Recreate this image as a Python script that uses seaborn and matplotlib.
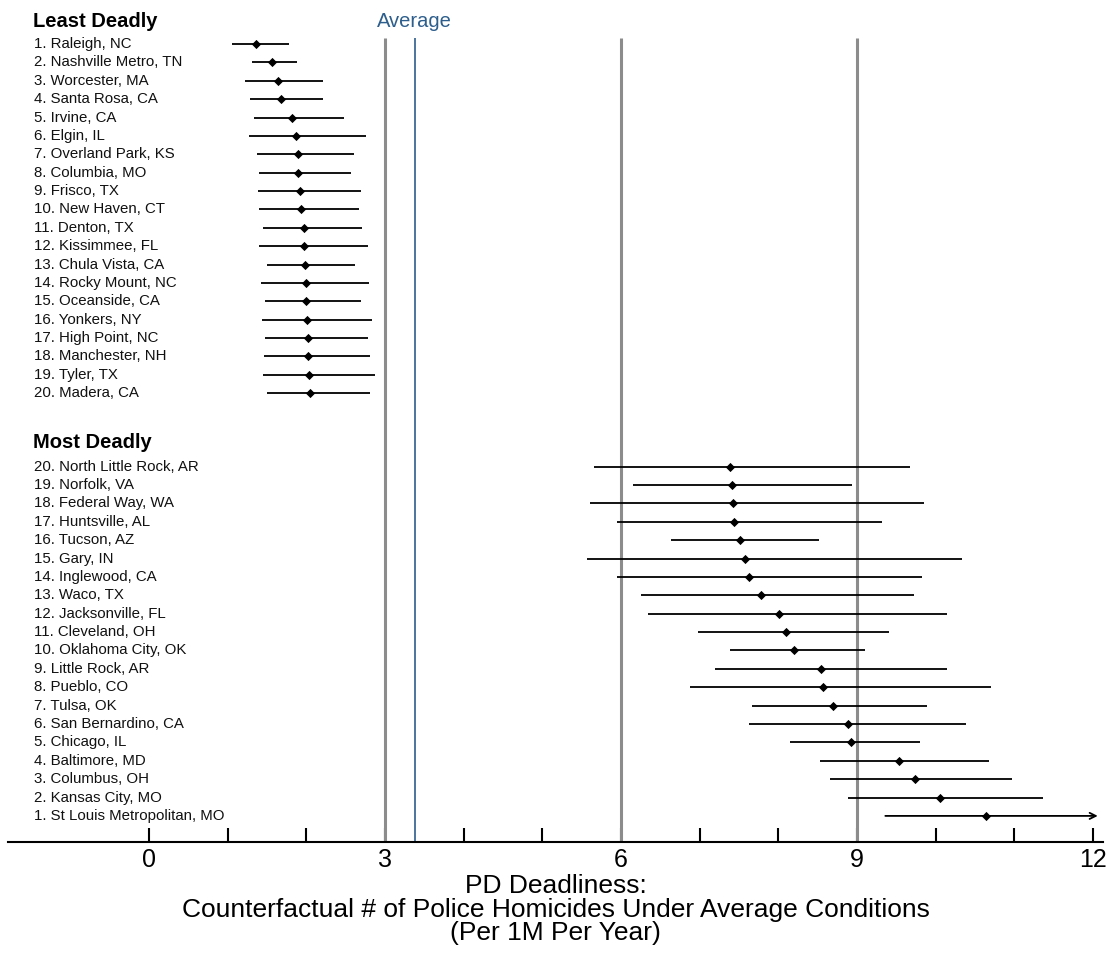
import pandas as pd
import matplotlib
matplotlib.use("Agg")
import matplotlib.pyplot as plt
import seaborn as sns
from matplotlib.transforms import blended_transform_factory

# least deadly, rank 1 -> 20
least_cities = ["Raleigh, NC", "Nashville Metro, TN", "Worcester, MA", "Santa Rosa, CA",
                "Irvine, CA", "Elgin, IL", "Overland Park, KS", "Columbia, MO", "Frisco, TX",
                "New Haven, CT", "Denton, TX", "Kissimmee, FL", "Chula Vista, CA",
                "Rocky Mount, NC", "Oceanside, CA", "Yonkers, NY", "High Point, NC",
                "Manchester, NH", "Tyler, TX", "Madera, CA"]
least_est = [1.36, 1.56, 1.64, 1.68, 1.82, 1.87, 1.89, 1.89, 1.92, 1.93,
             1.97, 1.97, 1.98, 1.99, 1.99, 2.01, 2.02, 2.02, 2.03, 2.05]
least_lo = [1.06, 1.31, 1.22, 1.28, 1.34, 1.27, 1.37, 1.40, 1.38, 1.40,
            1.45, 1.40, 1.50, 1.42, 1.48, 1.44, 1.48, 1.46, 1.45, 1.50]
least_hi = [1.78, 1.88, 2.21, 2.21, 2.48, 2.76, 2.61, 2.57, 2.69, 2.67,
            2.71, 2.79, 2.62, 2.80, 2.69, 2.83, 2.78, 2.81, 2.87, 2.81]

# most deadly, rank 20 -> 1 (top to bottom)
most_cities = ["North Little Rock, AR", "Norfolk, VA", "Federal Way, WA", "Huntsville, AL",
               "Tucson, AZ", "Gary, IN", "Inglewood, CA", "Waco, TX", "Jacksonville, FL",
               "Cleveland, OH", "Oklahoma City, OK", "Little Rock, AR", "Pueblo, CO",
               "Tulsa, OK", "San Bernardino, CA", "Chicago, IL", "Baltimore, MD",
               "Columbus, OH", "Kansas City, MO", "St Louis Metropolitan, MO"]
most_est = [7.38, 7.41, 7.42, 7.44, 7.51, 7.58, 7.63, 7.78, 8.01, 8.10,
            8.20, 8.54, 8.57, 8.70, 8.89, 8.93, 9.54, 9.74, 10.05, 10.64]
most_lo = [5.66, 6.15, 5.60, 5.95, 6.63, 5.57, 5.95, 6.25, 6.34, 6.98,
           7.39, 7.20, 6.88, 7.66, 7.63, 8.15, 8.53, 8.66, 8.89, 9.36]
most_hi = [9.67, 8.94, 9.85, 9.32, 8.52, 10.34, 9.82, 9.72, 10.14, 9.41,
           9.10, 10.15, 10.70, 9.89, 10.38, 9.80, 10.68, 10.97, 11.37, 12.06]

average_value = 3.38
ref_lines = [3, 6, 9]
x_ticks = list(range(13))

n = len(least_cities)
least = pd.DataFrame({
    "label": [f"{i + 1}. {c}" for i, c in enumerate(least_cities)],
    "est": least_est, "lo": least_lo, "hi": least_hi,
    "pos": list(range(n)),
})
most = pd.DataFrame({
    "label": [f"{n - i}. {c}" for i, c in enumerate(most_cities)],
    "est": most_est, "lo": most_lo, "hi": most_hi,
    "pos": [n + 3 + i for i in range(n)],
})
df = pd.concat([least, most], ignore_index=True)

sns.set_theme(style="white")
plt.rcParams["font.family"] = ["Liberation Sans", "DejaVu Sans"]

fig = plt.figure(figsize=(11.1, 9.68), dpi=100)
ax = fig.add_axes([8 / 1110, 126 / 968, 1095 / 1110, 842 / 968])

y_top, y_bot = -2.394, 43.42
blue = "#2D5E8C"

ax.vlines(ref_lines, -0.33, y_bot, color="#8c8c8c", lw=2.2, zorder=1)
ax.vlines(average_value, -0.33, y_bot, color=blue, lw=1.2, zorder=1)

# intervals; anything past the axis end gets an arrow
x_max = 12.0
normal = df[df.hi <= x_max]
ax.hlines(normal.pos, normal.lo, normal.hi, color="black", lw=1.3, zorder=3)
for _, r in df[df.hi > x_max].iterrows():
    ax.annotate("", xy=(r.hi, r.pos), xytext=(r.lo, r.pos),
                arrowprops=dict(arrowstyle="->", lw=1.3, color="black",
                                shrinkA=0, shrinkB=0, mutation_scale=11),
                zorder=3)

sns.scatterplot(data=df, x="est", y="pos", marker="D", s=22, color="black",
                edgecolor="black", linewidth=0, ax=ax, zorder=4)

trans = blended_transform_factory(fig.transFigure, ax.transData)
for _, r in df.iterrows():
    ax.text(34 / 1110, r.pos, r.label, transform=trans, ha="left", va="center",
            fontsize=10.8, color="#111111")

ax.text(33 / 1110, -1.25, "Least Deadly", transform=trans, ha="left", va="center",
        fontsize=14.5, fontweight="bold", color="black")
ax.text(33 / 1110, n + 1.71, "Most Deadly", transform=trans, ha="left", va="center",
        fontsize=14.5, fontweight="bold", color="black")
ax.text(average_value, -1.25, "Average", ha="center", va="center", color=blue, fontsize=14.5)

ax.set_xlim(-1.792, 12.127)
ax.set_ylim(y_bot, y_top)
ax.set_xticks(x_ticks)
ax.set_xticklabels([str(v) if v % 3 == 0 else "" for v in x_ticks])
ax.set_yticks([])
ax.tick_params(axis="x", bottom=True, direction="in", length=10, width=1.5,
               pad=4, labelsize=18, colors="black")
ax.set_xlabel("")
ax.set_ylabel("")
for s in ["left", "top", "right"]:
    ax.spines[s].set_visible(False)
ax.spines["bottom"].set_linewidth(1.5)
ax.spines["bottom"].set_color("black")

fig.text(8 / 1110 + 1095 / 1110 / 2, 1 - 874 / 968,
         "PD Deadliness:\nCounterfactual # of Police Homicides Under Average Conditions\n(Per 1M Per Year)",
         ha="center", va="top", fontsize=19, linespacing=0.98, color="black")

fig.savefig("out.png", dpi=100)
